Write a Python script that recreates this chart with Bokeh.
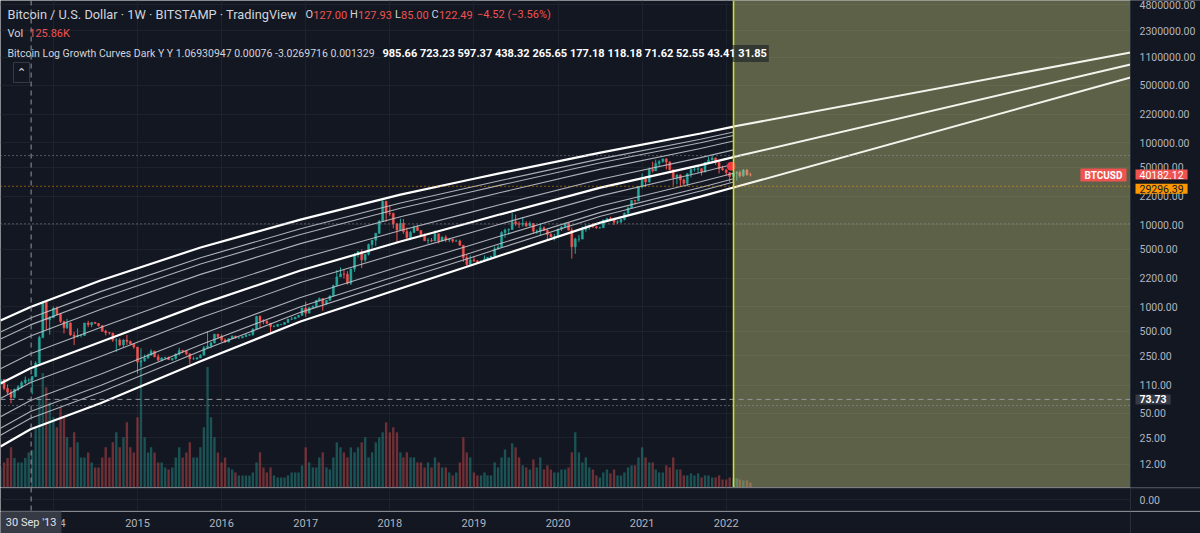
import numpy as np
import pandas as pd
from bokeh.plotting import figure
from bokeh.models import (Range1d, LinearScale, FixedTicker, Span, Label, ColumnDataSource)
from bokeh.layouts import column
from bokeh.embed import file_html
from bokeh.resources import INLINE
from bokeh.core.properties import value

# ---------------------------------------------------------------- data
# semi-monthly BTC/USD candles (periods start on the 1st and 16th)
first_open = 115.0
close_2013 = [129, 100, 90, 78, 98, 105, 118, 127, 127, 140, 205, 420, 1130, 690, 730]
high_2013 = [135, 130, 112, 98, 100, 110, 124, 140, 133, 142, 215, 440, 1163, 1150, 760]
low_2013 = [110, 95, 85, 66, 76, 93, 100, 113, 118, 85, 138, 200, 410, 520, 455]
vol_2013 = [68, 85, 100, 136, 100, 85, 85, 100, 119, 126, 204, 306, 388, 340, 289]

close_2014 = [950, 800, 660, 550, 630, 450, 430, 445, 445, 630, 600, 640, 620, 585, 500, 480, 475, 390, 390, 340, 390, 375, 350, 320]
high_2014 = [1000, 1000, 830, 660, 710, 640, 490, 540, 460, 630, 670, 645, 650, 630, 595, 520, 490, 480, 410, 410, 400, 450, 385, 355]
low_2014 = [730, 790, 630, 470, 530, 440, 340, 420, 420, 440, 560, 560, 615, 570, 495, 445, 455, 370, 280, 325, 320, 340, 345, 305]
vol_2014 = [238, 204, 272, 238, 170, 136, 187, 153, 102, 102, 119, 85, 68, 68, 102, 136, 102, 153, 187, 136, 170, 221, 136, 119]

close_2015 = [210, 218, 235, 255, 285, 245, 222, 236, 237, 225, 232, 263, 290, 285, 265, 230, 230, 237, 255, 315, 330, 360, 460, 430]
high_2015 = [320, 310, 260, 268, 300, 290, 262, 240, 245, 245, 236, 268, 315, 297, 293, 268, 245, 240, 262, 330, 500, 370, 465, 460]
low_2015 = [152, 185, 212, 230, 255, 240, 215, 215, 230, 224, 218, 225, 253, 270, 255, 198, 225, 225, 234, 255, 310, 310, 355, 405]
vol_2015 = [238, 425, 170, 119, 136, 119, 85, 85, 68, 61, 68, 102, 136, 102, 119, 153, 102, 102, 136, 204, 408, 238, 170, 119]

close_2016 = [390, 370, 405, 435, 415, 415, 430, 448, 455, 530, 760, 670, 665, 624, 570, 575, 605, 607, 640, 700, 705, 742, 780, 960]
high_2016 = [460, 410, 410, 445, 440, 425, 432, 470, 462, 545, 770, 780, 700, 680, 625, 590, 610, 612, 645, 710, 750, 750, 790, 975]
low_2016 = [370, 360, 365, 400, 405, 405, 412, 425, 440, 440, 530, 550, 610, 620, 470, 560, 570, 590, 605, 630, 690, 720, 735, 775]
vol_2016 = [85, 102, 68, 61, 51, 41, 41, 41, 41, 51, 85, 119, 68, 51, 68, 41, 34, 34, 34, 41, 51, 51, 51, 75]

close_2017 = [830, 970, 1000, 1190, 1250, 1080, 1190, 1350, 1800, 2300, 2500, 2480, 1920, 2870, 4300, 4700, 3700, 4340, 5700, 6450, 7850, 11000, 19300, 13800]
high_2017 = [1150, 985, 1035, 1200, 1290, 1260, 1200, 1355, 1850, 2780, 3000, 2800, 2700, 2900, 4480, 4750, 4980, 4400, 5850, 6500, 7900, 11400, 19666, 19300]
low_2017 = [750, 830, 960, 990, 1150, 890, 1050, 1180, 1350, 1800, 2300, 2200, 1850, 1830, 2650, 3950, 2950, 3500, 4200, 5100, 5500, 7700, 10800, 10800]
vol_2017 = [136, 85, 68, 68, 102, 119, 68, 61, 102, 153, 136, 119, 102, 136, 119, 136, 153, 170, 102, 119, 153, 170, 187, 221]

close_2018 = [13600, 10200, 8600, 10300, 8200, 6930, 8000, 9240, 8450, 7500, 6350, 6390, 6300, 7720, 6300, 7000, 6500, 6620, 6280, 6300, 5600, 3950, 3250, 3700]
high_2018 = [17200, 14000, 10300, 11800, 11700, 9200, 8400, 9750, 9900, 8500, 7780, 6800, 6850, 8500, 7720, 7150, 7400, 6800, 6700, 6550, 6550, 5600, 4300, 4200]
low_2018 = [12800, 9000, 6000, 8400, 7700, 6600, 6450, 7950, 8350, 7150, 6300, 5800, 6100, 6300, 5880, 6250, 6100, 6100, 6000, 6200, 5500, 3500, 3150, 3200]
vol_2018 = [187, 204, 187, 119, 102, 119, 102, 102, 85, 85, 68, 85, 68, 102, 85, 68, 68, 51, 41, 51, 85, 170, 119, 102]

close_2019 = [3600, 3450, 3600, 3820, 3970, 4100, 5050, 5300, 8000, 8550, 8700, 10800, 10200, 10080, 10300, 9600, 10300, 8300, 8350, 9150, 8500, 7550, 7100, 7200]
high_2019 = [4100, 3700, 3700, 4200, 4000, 4150, 5400, 5600, 8300, 8950, 9000, 13880, 13200, 10900, 12300, 10950, 10950, 10300, 8700, 10400, 9500, 8800, 7900, 7700]
low_2019 = [3500, 3350, 3380, 3600, 3700, 3950, 4100, 4950, 5300, 6900, 7500, 8700, 9650, 9100, 9400, 9350, 9600, 7800, 7700, 7300, 8400, 6500, 7000, 6400]
vol_2019 = [51, 41, 41, 51, 41, 41, 85, 68, 102, 129, 102, 150, 136, 102, 75, 68, 61, 95, 68, 102, 61, 75, 61, 51]

close_2020 = [8800, 9350, 10350, 8550, 5350, 6650, 6650, 8650, 9350, 9450, 9400, 9150, 9150, 11350, 11800, 11650, 10700, 10780, 11500, 13800, 15950, 19700, 19400, 29000]
high_2020 = [8900, 9600, 10500, 10500, 9190, 6900, 7450, 9450, 10050, 9900, 10400, 9600, 9400, 11450, 12100, 12450, 12050, 11200, 11700, 14000, 16500, 19800, 19900, 29300]
low_2020 = [6900, 8350, 9200, 8450, 3850, 4400, 6150, 6600, 8150, 8650, 9100, 8850, 8900, 9100, 10650, 11100, 9900, 10150, 10400, 11250, 13200, 15900, 17600, 19300]
vol_2020 = [51, 61, 61, 68, 119, 187, 119, 85, 102, 68, 61, 41, 34, 51, 61, 48, 61, 41, 41, 51, 68, 75, 75, 102]

close_2021 = [36000, 33100, 47000, 45200, 55600, 58800, 63000, 57700, 46500, 37300, 40100, 35000, 31800, 41500, 47000, 47100, 48000, 43800, 57300, 61300, 65000, 57000, 48400, 46300]
high_2021 = [42000, 38800, 49700, 58300, 61800, 61000, 64000, 64900, 59600, 46800, 41300, 41000, 36500, 42400, 48100, 50500, 52900, 48800, 58000, 67000, 69000, 65500, 59100, 52000]
low_2021 = [27700, 28800, 32300, 43000, 45000, 50500, 56800, 47000, 45700, 30000, 31000, 28800, 30300, 29300, 37500, 44500, 42800, 39600, 43300, 56000, 59900, 53500, 42000, 45500]
vol_2021 = [136, 102, 85, 85, 61, 51, 51, 75, 68, 102, 61, 61, 41, 41, 48, 41, 48, 34, 41, 41, 34, 34, 41, 27]

close_2022 = [43000, 38500, 42500, 43200, 39300, 46300, 40400, 40182.12]
high_2022 = [47900, 43500, 45800, 44800, 45400, 47500, 47400, 42900]
low_2022 = [39700, 33000, 36300, 34300, 37200, 38200, 39300, 38600]
vol_2022 = [27, 34, 31, 31, 27, 24, 24, 17]

# growth-curve envelope (upper / lower thick curves)
curve_years = [2013.371, 2013.728, 2014.56, 2015.75, 2016.938, 2018.127, 2018.96, 2019.316, 2020.505, 2021.694, 2022.087]
upper_curve = [674, 985.66, 2075, 5250, 11500, 23200, 35400, 42400, 75500, 128800, 156700]
lower_curve = [19.6, 31.85, 66, 215, 656, 1660, 3160, 4190, 10560, 21900, 28250]
# band values shown in the legend at the crosshair date (30 Sep '13)
band_values = [985.66, 723.23, 597.37, 438.32, 265.65, 177.18, 118.18, 71.62, 52.55, 43.41, 31.85]
thick_bands = [0, 5, 10]
ext_end_values = {0: 1253000, 5: 893000, 10: 621000}
projection_start = 2022.087

price_ticks = [12, 25, 50, 110, 250, 500, 1000, 2200, 5000, 10000, 22000, 50000,
               100000, 220000, 500000, 1100000, 2300000, 4800000]
year_ticks = [2014, 2015, 2016, 2017, 2018, 2019, 2020, 2021, 2022]
dotted_levels = [69350, 10200, 62]
orange_level = 29296.39
last_price = 40182.12
cross_year, cross_price = 2013.735, 73.73
marker_year, marker_price = 2022.06, 51400

title_text = "Bitcoin / U.S. Dollar \u00b7 1W \u00b7 BITSTAMP \u00b7 TradingView"
ohlc_parts = [("O", "127.00"), ("H", "127.93"), ("L", "85.00"), ("C", "122.49")]
change_text = "\u22124.52 (\u22123.56%)"
vol_text = "125.86K"
indicator_text = "Bitcoin Log Growth Curves Dark Y Y 1.06930947 0.00076 -3.0269716 0.001329"

# ---------------------------------------------------------------- prep
closes = close_2013 + close_2014 + close_2015 + close_2016 + close_2017 + close_2018 + close_2019 + close_2020 + close_2021 + close_2022
highs = high_2013 + high_2014 + high_2015 + high_2016 + high_2017 + high_2018 + high_2019 + high_2020 + high_2021 + high_2022
lows = low_2013 + low_2014 + low_2015 + low_2016 + low_2017 + low_2018 + low_2019 + low_2020 + low_2021 + low_2022
vols = vol_2013 + vol_2014 + vol_2015 + vol_2016 + vol_2017 + vol_2018 + vol_2019 + vol_2020 + vol_2021 + vol_2022

start, end = pd.Timestamp("2013-05-16"), pd.Timestamp("2022-04-16")
dates = [pd.Timestamp(y, m, d) for y in range(2013, 2023) for m in range(1, 13) for d in (1, 16)]
dates = [d for d in dates if start <= d <= end]
assert len(dates) == len(closes) == len(highs) == len(lows) == len(vols)


def frac_year(ts):
    days = 366 if ts.is_leap_year else 365
    return ts.year + (ts.dayofyear - 1) / days


xs = [frac_year(d) for d in dates]
opens = [first_open] + closes[:-1]
UP, DOWN = "#26a69a", "#ef5350"
colors = [UP if c >= o else DOWN for o, c in zip(opens, closes)]
src = ColumnDataSource(dict(
    x=xs, open=opens, close=closes, high=highs, low=lows, vol=vols, color=colors,
    top=[max(o, c) for o, c in zip(opens, closes)],
    bottom=[min(o, c) for o, c in zip(opens, closes)],
))

BG = "#131722"
GRID = "#1e222d"
BORDER = "#2a2e39"
TXT = "#b2b5be"
LIGHT = "#d1d4dc"
RED = "#ef5350"
FONT = "Roboto"

W = 1200
RIGHT = 70                      # price-scale column
FW = W - RIGHT                  # chart area width
MAIN_H, LOW_H, TIME_H = 487, 24, 22
X0, X1 = 2013.371, 2026.807     # chart area
XE = X1 + RIGHT * (X1 - X0) / FW  # right end incl. price-scale column


def base_fig(height, y_range, y_type="linear"):
    f = figure(width=W, height=height, x_range=Range1d(X0, XE), y_range=y_range,
               y_axis_type=y_type, x_axis_location=None, y_axis_location=None,
               output_backend="svg", toolbar_location=None,
               background_fill_color=BG, border_fill_color=BG, outline_line_color=None,
               min_border=0)
    return f


def lab(fig, x, y, text, color, size=11.0, bold=False, bg=None, bg_alpha=1.0,
        x_units="screen", y_units="screen", align="left", font=FONT, pad=None,
        border=None, x_offset=0, y_offset=0):
    kw = dict(x=x, y=y, x_units=x_units, y_units=y_units, text=text, text_color=color,
              text_font_size=f"{size}px", text_font=font,
              text_font_style="bold" if bold else "normal",
              text_align=align, text_baseline="middle", x_offset=x_offset, y_offset=y_offset)
    if bg is not None:
        kw.update(background_fill_color=bg, background_fill_alpha=bg_alpha)
    if pad is not None:
        kw["padding"] = pad
    if border is not None:
        kw["border_line_color"] = border
    fig.add_layout(Label(**kw))


def price_column(fig, y0, y1):
    # opaque price-scale column and its separator
    fig.quad(left=[X1], right=[XE + 1], bottom=[y0], top=[y1], fill_color=BG, line_color=None)
    fig.add_layout(Span(location=X1, dimension="height", line_color=BORDER, line_width=1))


# ---------------------------------------------------------------- main pane
p = base_fig(MAIN_H, Range1d(6.21, 5.4e6), "log")
p.extra_y_ranges = {"vol": Range1d(0, 1650)}
p.extra_y_scales = {"vol": LinearScale()}
p.ygrid.ticker = FixedTicker(ticks=price_ticks)
p.ygrid.grid_line_color = GRID
p.xgrid.ticker = FixedTicker(ticks=year_ticks)
p.xgrid.grid_line_color = GRID

# volume overlay
p.vbar(x="x", width=0.028, top="vol", bottom=0, source=src, y_range_name="vol",
       fill_color="color", fill_alpha=0.42, line_color=None)
# candles
p.segment(x0="x", y0="high", x1="x", y1="low", source=src, line_color="color", line_width=1)
p.vbar(x="x", width=0.024, top="top", bottom="bottom", source=src,
       fill_color="color", line_color="color", line_width=0.5)

# projection zone
p.quad(left=[projection_start], right=[X1], bottom=[1], top=[1e9],
       fill_color="#ccd283", fill_alpha=0.4, line_color=None)

# growth curves
lo = np.log10(np.array(lower_curve, dtype=float))
hi = np.log10(np.array(upper_curve, dtype=float))
vmin, vmax = np.log10(band_values[-1]), np.log10(band_values[0])
for k, v in enumerate(band_values):
    f = (np.log10(v) - vmin) / (vmax - vmin)
    vals = 10 ** (lo + f * (hi - lo))
    if k in thick_bands:
        p.line(curve_years, vals, line_color="#ffffff", line_width=2.2)
        p.line([projection_start, X1], [vals[-1], ext_end_values[k]],
               line_color="#f4f4ec", line_width=2)
    else:
        p.line(curve_years, vals, line_color="#c8cbd3", line_width=1.1, line_alpha=0.85)

# horizontal levels (stop at the price scale)
for lv in dotted_levels:
    p.segment(x0=[X0], y0=[lv], x1=[X1], y1=[lv], line_color="#9598a1",
              line_dash="1 3", line_width=1)
p.segment(x0=[X0], y0=[orange_level], x1=[X1], y1=[orange_level], line_color="#ff9800",
          line_dash="1 3", line_width=1)
p.segment(x0=[X0], y0=[cross_price], x1=[X1], y1=[cross_price], line_color="#9598a1",
          line_dash="5 4", line_width=1)
p.scatter([marker_year], [marker_price], size=9, color="#f23645", line_color=None)

price_column(p, 1, 1e9)
p.text(x=[X1] * len(price_ticks), y=price_ticks, text=[f"{t:.2f}" for t in price_ticks],
       x_offset=9, text_baseline="middle", text_align="left", text_color=TXT,
       text_font=value(FONT), text_font_size="10.5px")

p.add_layout(Span(location=projection_start, dimension="height", line_color="#cddc39",
                  line_width=1.6))
p.add_layout(Span(location=cross_year, dimension="height", line_color="#9598a1",
                  line_dash="5 4", line_width=1))


def hy(yr):
    return MAIN_H - yr


# header
lab(p, 7, hy(14), title_text, LIGHT, 12.8)
ohlc_x = [(305, 312.8), (349.5, 357.5), (394.5, 400.6), (431, 438.4)]
for (letter, val), (lx, vx) in zip(ohlc_parts, ohlc_x):
    lab(p, lx, hy(14), letter, LIGHT, 11)
    lab(p, vx, hy(14), val, DOWN, 11)
lab(p, 476.5, hy(14), change_text, DOWN, 11)
lab(p, 7, hy(33), "Vol", LIGHT, 11)
lab(p, 28.7, hy(33), vol_text, DOWN, 11)
lab(p, 7, hy(53), indicator_text, LIGHT, 10.5)
lab(p, 380, hy(53), " ".join(f"{v:.2f}" for v in band_values), "#ffffff", 11,
    bold=True, bg=BG, bg_alpha=0.55, pad=2)
lab(p, 13, hy(72), "\u2303", LIGHT, 12, font="DejaVu Sans", border="#363a45", pad=3)

# price-scale tags
tag_pad = dict(left=4, right=4, top=1, bottom=1)
lab(p, X1, last_price, "BTCUSD", "#ffffff", 10, bold=True, bg=RED, x_units="data",
    y_units="data", align="right", pad=tag_pad, x_offset=-4)
lab(p, X1, last_price, f"{last_price:.2f}", "#ffffff", 10.5, bg=RED, x_units="data",
    y_units="data", pad=tag_pad, x_offset=5, y_offset=0.5)
lab(p, X1, orange_level, f"{orange_level:.2f}", "#131722", 10.5, bg="#ff9800",
    x_units="data", y_units="data", pad=tag_pad, x_offset=5, y_offset=-2.5)
lab(p, X1, cross_price, f"{cross_price:.2f}", "#ffffff", 10.5, bold=True, bg="#363a45",
    x_units="data", y_units="data", pad=tag_pad, x_offset=5)

# ---------------------------------------------------------------- lower (empty) pane
q = base_fig(LOW_H, Range1d(-1.1, 1.1))
q.ygrid.ticker = FixedTicker(ticks=[0])
q.ygrid.grid_line_color = GRID
q.xgrid.ticker = FixedTicker(ticks=year_ticks)
q.xgrid.grid_line_color = GRID
price_column(q, -2, 2)
q.text(x=[X1], y=[0], text=["0.00"], x_offset=9, text_baseline="middle", text_align="left",
       text_color=TXT, text_font=value(FONT), text_font_size="10.5px")
q.add_layout(Span(location=1.03, dimension="width", line_color=BORDER, line_width=1))
q.add_layout(Span(location=-1.03, dimension="width", line_color=BORDER, line_width=1))
q.add_layout(Span(location=cross_year, dimension="height", line_color="#9598a1",
                  line_dash="5 4", line_width=1))

# ---------------------------------------------------------------- time scale
t = base_fig(TIME_H, Range1d(-1, 1))
t.xgrid.grid_line_color = None
t.ygrid.grid_line_color = None
t.text(x=year_ticks, y=[0] * len(year_ticks), text=[str(y) for y in year_ticks],
       text_baseline="middle", text_align="center", text_color=TXT,
       text_font=value(FONT), text_font_size="11px")
t.add_layout(Span(location=X1, dimension="height", line_color=BORDER, line_width=1))
lab(t, cross_year, 0, "30 Sep '13", "#e0e3eb", 11, bg="#363a45", x_units="data",
    y_units="data", align="center", pad=dict(left=5, right=5, top=5, bottom=5))

layout = column(p, q, t, spacing=0)
open("out.html", "w").write(file_html(layout, INLINE))
